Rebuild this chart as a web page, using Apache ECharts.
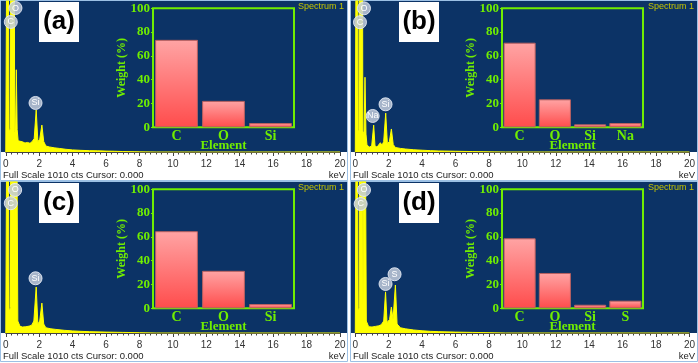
<!DOCTYPE html>
<html>
<head>
<meta charset="utf-8">
<script src="https://cdn.jsdelivr.net/npm/echarts@6/dist/echarts.min.js"></script>
<style>
  html, body { margin: 0; padding: 0; background: #fff; }
  #chart { width: 698px; height: 363px; }
</style>
</head>
<body>
<div id="chart"></div>
<script>
// EDS spectra: [keV, counts]
const spectrumA = [[0,0],[0.05,0],[0.1,2500],[0.15,2500],[0.2,130],[0.28,160],[0.31,3000],[0.49,3000],[0.53,140],[0.58,120],[0.63,550],[0.68,150],[0.74,75],[0.85,62],[1.0,68],[1.15,60],[1.3,64],[1.45,58],[1.58,70],[1.7,90],[1.82,281],[1.92,70],[2.03,85],[2.16,180],[2.27,70],[2.4,40],[2.6,34],[2.9,28],[3.2,24],[3.6,18],[4.0,14],[4.5,11],[5.0,9],[5.5,8],[6.0,6],[6.5,5],[7.0,3],[8.0,1],[9,0],[20,0]];
const spectrumB = [[0,0],[0.05,0],[0.08,2500],[0.13,2500],[0.17,120],[0.22,150],[0.25,3000],[0.41,3000],[0.45,140],[0.52,120],[0.58,500],[0.64,120],[0.7,45],[0.85,33],[0.98,40],[1.1,180],[1.18,40],[1.3,33],[1.4,40],[1.5,62],[1.6,45],[1.7,70],[1.82,260],[1.92,55],[2.04,70],[2.16,154],[2.27,50],[2.4,30],[2.7,24],[3.0,20],[3.5,15],[4.0,12],[4.5,9],[5.0,7],[6.0,5],[7.0,3],[8.0,1],[9,0],[20,0]];
const spectrumC = [[0,0],[0.05,0],[0.1,2500],[0.15,2500],[0.2,140],[0.28,170],[0.31,3000],[0.49,3000],[0.53,150],[0.58,140],[0.61,2500],[0.67,2500],[0.72,80],[0.85,45],[1.0,40],[1.2,42],[1.4,46],[1.55,52],[1.68,80],[1.82,308],[1.92,60],[2.03,80],[2.16,200],[2.27,60],[2.4,35],[2.7,28],[3.0,24],[3.5,18],[4.0,14],[4.5,11],[5.0,9],[6.0,6],[7.0,4],[8.0,2],[9,0],[20,0]];
const spectrumD = [[0,0],[0.05,0],[0.08,2500],[0.13,2500],[0.17,140],[0.24,170],[0.27,3000],[0.42,3000],[0.46,150],[0.52,140],[0.55,2500],[0.61,2500],[0.66,80],[0.8,42],[1.0,40],[1.2,44],[1.4,48],[1.55,55],[1.7,80],[1.81,275],[1.9,70],[2.05,90],[2.16,174],[2.26,90],[2.4,321],[2.5,60],[2.7,35],[3.0,28],[3.5,20],[4.0,15],[4.5,11],[5.0,9],[6.0,6],[7.0,4],[8.0,2],[9,0],[20,0]];

// peak labels: [element, keV, counts]
const peaksA = [['O',0.58,963],['C',0.3,870],['Si',1.78,328]];
const peaksB = [['O',0.52,961],['C',0.28,868],['Na',1.04,241],['Si',1.81,319]];
const peaksC = [['O',0.56,957],['C',0.3,868],['Si',1.78,366]];
const peaksD = [['O',0.52,957],['C',0.32,863],['Si',1.81,328],['S',2.35,393]];

// inset bar charts: weight %
const elementsA = ['C','O','Si'];
const weightA = [73.5, 22.2, 3.6];
const elementsB = ['C','O','Si','Na'];
const weightB = [71.1, 23.5, 2.5, 3.6];
const elementsC = ['C','O','Si'];
const weightC = [64.8, 31.5, 3.6];
const elementsD = ['C','O','Si','S'];
const weightD = [58.8, 29.7, 3.0, 6.4];

const panelTags = ['(a)','(b)','(c)','(d)'];

const spectra = [spectrumA, spectrumB, spectrumC, spectrumD];
const peaks = [peaksA, peaksB, peaksC, peaksD];
const elements = [elementsA, elementsB, elementsC, elementsD];
const weights = [weightA, weightB, weightC, weightD];

const layout = [
  {px: 0,   py: 0,   sx: 3.3,   ix: 153, bx: 39},
  {px: 350, py: 0,   sx: 355.3, ix: 502, bx: 399},
  {px: 0,   py: 181, sx: 3.3,   ix: 153, bx: 39},
  {px: 350, py: 181, sx: 355.3, ix: 502, bx: 399}
];

const BLUE = '#0c3366', GREEN = '#70ee00', YEL = '#ffff00';
const SERIF = '"Liberation Serif", "Times New Roman", serif';
const SANS = '"Liberation Sans", Arial, sans-serif';

const grid = [], xAxis = [], yAxis = [], series = [], graphic = [];

layout.forEach((L, i) => {
  // panel frame + blue plot area
  graphic.push({type: 'rect', z: -10, shape: {x: L.px + 0.5, y: L.py + 0.5, width: 347, height: 180},
    style: {fill: '#fff', stroke: '#9cc0e4', lineWidth: 1}});
  graphic.push({type: 'rect', z: -9, shape: {x: L.px + 1, y: L.py + 1, width: 346, height: 151},
    style: {fill: BLUE}});
  // tag box
  graphic.push({type: 'rect', z: 5, shape: {x: L.bx, y: L.py + 2, width: 40, height: 40},
    style: {fill: '#fff'}});
  graphic.push({type: 'text', z: 6, x: L.bx + 20, y: L.py + 22,
    style: {text: panelTags[i], font: 'bold 26px ' + SANS, fill: '#000', align: 'center', verticalAlign: 'middle'}});
  graphic.push({type: 'text', z: 6, x: L.px + 344, y: L.py + 7,
    style: {text: 'Spectrum 1', font: '9px ' + SANS, fill: '#c4c400', align: 'right', verticalAlign: 'middle'}});
  graphic.push({type: 'text', z: 6, x: L.px + 3, y: L.py + 175,
    style: {text: 'Full Scale 1010 cts Cursor: 0.000', font: '9.5px ' + SANS, fill: '#222', align: 'left', verticalAlign: 'middle'}});
  graphic.push({type: 'text', z: 6, x: L.px + 345, y: L.py + 175,
    style: {text: 'keV', font: '9.5px ' + SANS, fill: '#222', align: 'right', verticalAlign: 'middle'}});

  // spectrum
  grid.push({left: L.sx, top: L.py + 1, width: 336.7, height: 151, show: false});
  xAxis.push({type: 'value', gridIndex: 2 * i, min: 0, max: 20, interval: 2,
    axisLine: {show: true, onZero: false, lineStyle: {color: '#444', width: 1}},
    axisTick: {show: true, length: 4, lineStyle: {color: '#444'}},
    minorTick: {show: true, splitNumber: 6, length: 2.5, lineStyle: {color: '#444'}},
    splitLine: {show: false},
    axisLabel: {color: '#333', fontSize: 10, fontFamily: SANS, margin: 7}});
  yAxis.push({type: 'value', gridIndex: 2 * i, min: 0, max: 1010, show: false});
  series.push({type: 'line', xAxisIndex: 2 * i, yAxisIndex: 2 * i, data: spectra[i],
    symbol: 'none', clip: true, animation: false,
    lineStyle: {color: YEL, width: 1}, areaStyle: {color: YEL, opacity: 1},
    markPoint: {
      symbol: 'circle', symbolSize: 13, animation: false,
      itemStyle: {color: 'rgba(195,205,220,0.85)', borderColor: 'rgba(230,235,245,0.9)', borderWidth: 1},
      label: {show: true, position: 'inside', formatter: p => p.name, color: '#fff', fontSize: 9, fontFamily: SANS},
      data: peaks[i].map(([n, k, c]) => ({name: n, coord: [k, c]}))
    }});

  // inset weight bar chart
  grid.push({left: L.ix, top: L.py + 8.3, width: 141, height: 119, show: true,
    borderColor: GREEN, borderWidth: 2, backgroundColor: 'transparent'});
  const txt = {color: GREEN, fontFamily: SERIF, fontWeight: 'bold'};
  xAxis.push({type: 'category', gridIndex: 2 * i + 1, data: elements[i],
    axisLine: {show: false}, axisTick: {show: false},
    axisLabel: Object.assign({fontSize: 14, margin: 2}, txt),
    name: 'Element', nameLocation: 'middle', nameGap: 12, nameMoveOverlap: false,
    nameTextStyle: Object.assign({fontSize: 13}, txt)});
  yAxis.push({type: 'value', gridIndex: 2 * i + 1, min: 0, max: 100, interval: 20,
    axisLine: {show: false},
    axisTick: {show: true, length: 2, lineStyle: {color: GREEN}},
    splitLine: {show: false},
    axisLabel: Object.assign({fontSize: 13, margin: 3}, txt),
    name: 'Weight (%)', nameLocation: 'middle', nameGap: 25, nameMoveOverlap: false,
    nameTextStyle: Object.assign({fontSize: 12}, txt)});
  series.push({type: 'bar', xAxisIndex: 2 * i + 1, yAxisIndex: 2 * i + 1, data: weights[i],
    barCategoryGap: '9%', animation: false,
    itemStyle: {
      color: new echarts.graphic.LinearGradient(0, 0, 0, 1, [
        {offset: 0, color: '#ffa4a4'}, {offset: 1, color: '#ff4c4c'}]),
      borderColor: '#b86060', borderWidth: 1
    }});
});

const chart = echarts.init(document.getElementById('chart'));
chart.setOption({animation: false, grid, xAxis, yAxis, series, graphic});
</script>
</body>
</html>
